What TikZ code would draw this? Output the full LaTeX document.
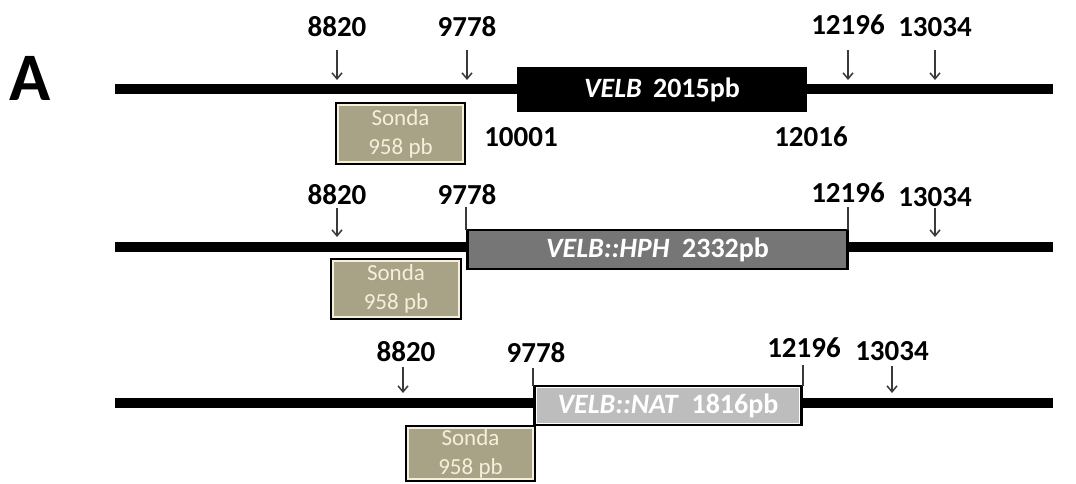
\documentclass[tikz,border=0pt]{standalone}
\usepackage{fontspec}
\setmainfont{Carlito}
\usetikzlibrary{arrows.meta}
\definecolor{sonda}{HTML}{A8A386}
\definecolor{sondatxt}{HTML}{F4F0DC}
\definecolor{hph}{HTML}{767676}
\definecolor{nat}{HTML}{BDBDBD}
\definecolor{arrc}{HTML}{3A3A3A}
\newcommand{\site}[8]{%
  \node[lbl] (#1) at (#2,#3) {#4};
  \coordinate (#1t) at (#5,#6);
  \coordinate (#1b) at (#5,#7);
  \draw[#8] (#1t) -- (#1b);}
\newcommand{\innerline}[3]{%
  \draw[#2, line width=1.2pt] ([shift={(#3,-#3)}]#1.north west) rectangle ([shift={(-#3,#3)}]#1.south east);}
\begin{document}
\begin{tikzpicture}[x=1pt,y=-1pt,
  dna/.style={line width=10pt, black},
  lbl/.style={font=\fontsize{29}{32}\selectfont\bfseries, inner sep=0pt},
  gene/.style={draw=black, line width=2.5pt, inner sep=0pt, font=\fontsize{28}{30}\selectfont\bfseries, text=white},
  sondabox/.style={draw=black, line width=3pt, fill=sonda, text=sondatxt, align=center, inner sep=0pt, font=\fontsize{23}{29}\selectfont},
  arrw/.style={draw=arrc, line width=1.5pt, -{Straight Barb[length=6pt,width=10pt]}},
  tickln/.style={draw=arrc, line width=1.5pt},
]
\useasboundingbox (0,0) rectangle (1076,484);
\fill[white] (0,0) rectangle (1076,484);

% panel letter
\node[font=\fontsize{68}{68}\selectfont\bfseries, inner sep=0pt] (A) at (30,78) {A};

% ---------- row 1 ----------
\coordinate (r1s) at (115,89.5);
\coordinate (r1e) at (1053,89.5);
\draw[dna] (r1s) -- (r1e);
\node[gene, fill=black, minimum width=288pt, minimum height=42pt] (velb) at (662,89.5) {\textit{VELB}\hspace{0.4em}2015pb};
\node[sondabox, minimum width=128pt, minimum height=60pt] (s1) at (400.5,133.5) {Sonda\\958 pb};
\innerline{s1}{sondatxt}{3pt}
\site{a1}{337}{27}{8820}{337}{50}{80}{arrw}
\site{b1}{467}{27}{9778}{467}{50}{80}{arrw}
\site{c1}{848}{25}{12196}{848}{50}{80}{arrw}
\site{d1}{935}{27}{13034}{935}{50}{80}{arrw}
\node[lbl] (e1) at (521,137) {10001};
\node[lbl] (f1) at (811,137) {12016};

% ---------- row 2 ----------
\coordinate (r2s) at (115,247);
\coordinate (r2e) at (1053,247);
\draw[dna] (r2s) -- (r2e);
\node[gene, fill=hph, minimum width=380pt, minimum height=39pt] (hph) at (657.5,249.5) {\textit{VELB::HPH}\hspace{0.45em}2332pb};
\node[sondabox, minimum width=129pt, minimum height=59pt] (s2) at (396,289) {Sonda\\958 pb};
\innerline{s2}{sondatxt}{3pt}
\site{a2}{337}{195}{8820}{337}{208}{237}{arrw}
\site{b2}{467}{195}{9778}{466}{207}{230}{tickln}
\site{c2}{848}{193}{12196}{848}{207}{230}{tickln}
\site{d2}{935}{197}{13034}{935}{208}{237}{arrw}

% ---------- row 3 ----------
\coordinate (r3s) at (115,403);
\coordinate (r3e) at (1053,403);
\draw[dna] (r3s) -- (r3e);
\node[gene, fill=nat, minimum width=267pt, minimum height=39pt] (nat) at (668,405.5) {\textit{VELB::NAT}\hspace{0.45em}1816pb};
\innerline{nat}{white}{3pt}
\node[sondabox, minimum width=128pt, minimum height=54pt] (s3) at (470.5,453.5) {Sonda\\958 pb};
\innerline{s3}{sondatxt}{3pt}
\site{a3}{406}{352}{8820}{403}{367}{393}{arrw}
\site{b3}{536}{353}{9778}{533}{368}{386}{tickln}
\site{c3}{804}{348}{12196}{803}{365}{386}{tickln}
\site{d3}{892}{351}{13034}{892}{366}{393}{arrw}
\end{tikzpicture}
\end{document}
